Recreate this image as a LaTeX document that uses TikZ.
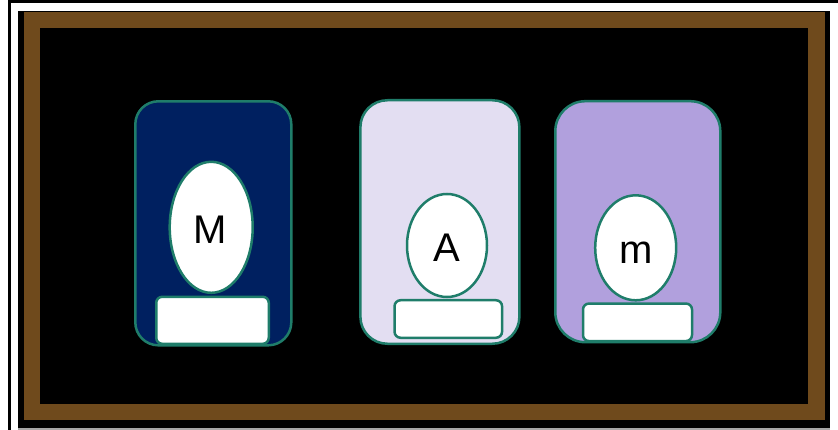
\documentclass[tikz,border=0pt]{standalone}
\usepackage{fontspec}
\setmainfont{Liberation Sans}
\usetikzlibrary{shapes.geometric}
\definecolor{navy}{HTML}{002060}
\definecolor{lav}{HTML}{E3DEF2}
\definecolor{purp}{HTML}{B1A0DD}
\definecolor{frame}{HTML}{6F4A1C}
\definecolor{teal}{HTML}{1F7D6A}
\tikzset{
  card/.style={draw=teal, line width=2.5pt, rectangle, inner sep=0pt, outer sep=0pt},
  egg/.style={draw=teal, line width=2.5pt, fill=white, ellipse, inner sep=0pt, outer sep=0pt},
  base/.style={draw=teal, line width=2.5pt, fill=white, rectangle, rounded corners=6pt, inner sep=0pt, outer sep=0pt},
  lbl/.style={anchor=base, inner sep=0pt, font=\fontsize{40}{40}\selectfont, text=black}
}
\begin{document}
\begin{tikzpicture}[x=1pt,y=-1pt]
\useasboundingbox (0,0) rectangle (838,430);
\fill[white] (0,0) rectangle (838,430);
% outer lines
\fill[black] (8,0) rectangle (11,430);
\fill[black] (11,0) rectangle (838,3);
\fill[black] (18,11) rectangle (830,428);
\fill[gray!70] (18,428) rectangle (830,430);
% brown frame
\fill[frame] (24,12) rectangle (825,420);
\fill[black] (40,28) rectangle (808,404);
% card 1
\node[card, fill=navy, rounded corners=23pt, minimum width=156pt, minimum height=244pt] (card1) at (213.3,223.3) {};
\node[egg, minimum width=83pt, minimum height=131pt] (egg1) at (211.2,227.3) {};
\node[base, minimum width=112.5pt, minimum height=47pt] (base1) at (212.5,320.3) {};
\node[lbl] (t1) at (210,244) {M};
% card 2
\node[card, fill=lav, rounded corners=27pt, minimum width=159pt, minimum height=243.5pt] (card2) at (439.9,222) {};
\node[egg, minimum width=80pt, minimum height=103pt] (egg2) at (447,245.5) {};
\node[base, minimum width=107.5pt, minimum height=37.5pt] (base2) at (448.3,319) {};
\node[lbl] (t2) at (447,261.3) {A};
% card 3
\node[card, fill=purp, rounded corners=30pt, minimum width=165pt, minimum height=241pt] (card3) at (637.8,221.7) {};
\node[egg, minimum width=81pt, minimum height=105pt] (egg3) at (635.7,247.8) {};
\node[base, minimum width=109pt, minimum height=37.5pt] (base3) at (637.5,322.3) {};
\node[lbl] (t3) at (636,264) {m};
\end{tikzpicture}
\end{document}
